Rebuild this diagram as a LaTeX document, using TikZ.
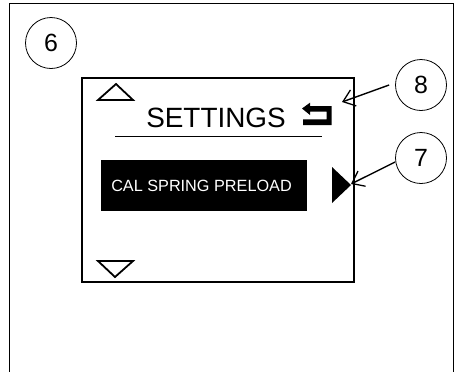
\documentclass[tikz,border=0pt]{standalone}
\usepackage{fontspec}
\setmainfont{Liberation Sans}
\usetikzlibrary{arrows.meta}
\begin{document}
\begin{tikzpicture}[x=1bp,y=-1bp,
  callout/.style={draw, circle, line width=0.8pt, minimum size=51bp, inner sep=0pt, font=\fontsize{25}{25}\selectfont},
  pointer/.style={line width=1.4pt, -{Straight Barb[length=11bp,width=17bp,line width=1.3pt]}},
  tri/.style={draw, line width=1.8pt, line join=miter}]
\useasboundingbox (0,0) rectangle (456,371);
% outer frame
\draw[line width=1pt] (9,372) -- (9,3) -- (453,3) -- (453,372);
% callouts
\node[callout] (c6) at (51,43) {6};
\node[callout] (c8) at (421,85) {8};
\node[callout] (c7) at (421,158) {7};
% screen
\draw[line width=1.6pt] (82,78) rectangle (354,282);
\draw[tri] (98,100) -- (133,100) -- (116,84) -- cycle;
\draw[tri] (98,261) -- (133,261) -- (115,277) -- cycle;
\node[anchor=base, font=\fontsize{28}{28}\selectfont, inner sep=0pt] (title) at (216,127) {SETTINGS};
\draw[line width=0.8pt] (115,136) -- (322,136);
% return icon
\fill (302,108.5) -- (310,102.7) -- (310,106) -- (331.7,106) -- (331.7,125) -- (303,125) -- (303,119.3) -- (326.7,119.3) -- (326.7,111.7) -- (310,111.7) -- (310,115) -- cycle;
\coordinate (ret) at (342,102);
% selected item
\node[fill=black, text=white, minimum width=206bp, minimum height=51bp, inner sep=0pt, font=\fontsize{16.3}{16.3}\selectfont] (item) at (204,185.5) {\hspace*{-5bp}CAL SPRING PRELOAD};
\fill (332,167) -- (351,185) -- (332,203) -- cycle;
\coordinate (right) at (351,184);
% pointers
\draw[pointer] (c8.west) ++(-6,0) -- (ret);
\draw[pointer] (c7.west) ++(0,4) -- (right);
\end{tikzpicture}
\end{document}
